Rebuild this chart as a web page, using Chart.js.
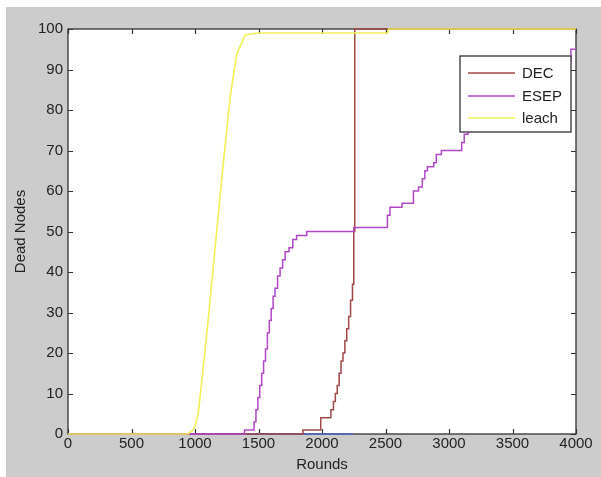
<!DOCTYPE html>
<html>
<head>
<meta charset="utf-8">
<script src="https://cdn.jsdelivr.net/npm/chart.js@4.4.0/dist/chart.umd.min.js"></script>
<style>
  html, body { margin: 0; padding: 0; background: #ffffff; }
  #wrap { width: 601px; height: 477px; position: relative; }
</style>
</head>
<body>
<div id="wrap"><canvas id="c" width="601" height="477"></canvas></div>
<script>
// ---- data ----
const xTicks = [0, 500, 1000, 1500, 2000, 2500, 3000, 3500, 4000];
const yTicks = [0, 10, 20, 30, 40, 50, 60, 70, 80, 90, 100];
const seriesNames = ["DEC", "ESEP", "leach"];

const decRounds = [0, 1850, 1990, 2070, 2090, 2105, 2120, 2135, 2150, 2165, 2180, 2195, 2210, 2225, 2240, 2250, 2258, 4000];
const decDead   = [0, 1,    4,    6,    8,    10,   12,   15,   18,   20,   23,   26,   29,   33,   37,   50,   100,  100];

const esepRounds = [0, 1390, 1465, 1480, 1495, 1510, 1525, 1540, 1555, 1570, 1585, 1600, 1615, 1630, 1650, 1670, 1690, 1710, 1740, 1770, 1800, 1880, 2250, 2515, 2535, 2630, 2720, 2760, 2790, 2810, 2830, 2880, 2900, 2940, 3100, 3120, 3150, 3250, 3400, 3550, 3700, 3850, 3960, 4000];
const esepDead   = [0, 1,    3,    6,    9,    12,   15,   18,   21,   25,   28,   31,   34,   36,   39,   41,   43,   45,   46,   48,   49,   50,   51,   54,   56,   57,   60,   61,   63,   65,   66,   67,   69,   70,   72,   74,   75,   78,   82,   86,   89,   92,   95,   95];

const leachRounds = [0, 944, 985, 1000, 1025, 1060, 1100, 1140, 1180, 1220, 1250, 1276, 1300, 1330, 1360, 1395, 1490, 2515, 2525, 4000];
const leachDead   = [0, 0,   1,   2,    5,    15,   27,   40,   53,   66,   75,   83,   88,   94,   96,   98.5, 99,  99,   100,  100];

// unlabeled series visible only along the x axis
const otherRounds = [0, 2250];
const otherDead   = [0, 0];

function pts(xs, ys) { return xs.map((x, i) => ({ x: x, y: ys[i] })); }

const colors = { DEC: "#a04848", ESEP: "#b048c8", leach: "#f2f055", other: "#5566c0" };

const bgPlugin = {
  id: "bg",
  beforeDraw(chart) {
    const ctx = chart.ctx;
    ctx.save();
    ctx.fillStyle = "#ffffff";
    ctx.fillRect(0, 0, chart.width, chart.height);
    ctx.fillStyle = "#cccccc";
    ctx.fillRect(6, 7, chart.width - 6, chart.height - 7);
    const a = chart.chartArea;
    ctx.fillStyle = "#ffffff";
    ctx.fillRect(a.left, a.top, a.right - a.left, a.bottom - a.top);
    ctx.restore();
  },
  beforeDatasetsDraw(chart) {
    const ctx = chart.ctx;
    const a = chart.chartArea;
    const xs = chart.scales.x, ys = chart.scales.y;
    ctx.save();
    ctx.strokeStyle = "#333333";
    ctx.lineWidth = 1.3;
    ctx.strokeRect(a.left, a.top, a.right - a.left, a.bottom - a.top);
    ctx.lineWidth = 1.2;
    ctx.beginPath();
    xTicks.forEach(v => {
      const px = Math.round(xs.getPixelForValue(v)) + 0.5;
      ctx.moveTo(px, a.bottom); ctx.lineTo(px, a.bottom - 5);
      ctx.moveTo(px, a.top); ctx.lineTo(px, a.top + 5);
    });
    yTicks.forEach(v => {
      const py = Math.round(ys.getPixelForValue(v)) + 0.5;
      ctx.moveTo(a.left, py); ctx.lineTo(a.left + 5, py);
      ctx.moveTo(a.right, py); ctx.lineTo(a.right - 5, py);
    });
    ctx.stroke();
    ctx.restore();
  },
  afterDraw(chart) {
    const ctx = chart.ctx;
    const bx = 460, by = 56, bw = 111, bh = 76;
    ctx.save();
    ctx.fillStyle = "#ffffff";
    ctx.fillRect(bx, by, bw, bh);
    ctx.strokeStyle = "#333333";
    ctx.lineWidth = 1.3;
    ctx.strokeRect(bx, by, bw, bh);
    ctx.font = "15px 'Liberation Sans', Arial, sans-serif";
    ctx.textBaseline = "middle";
    ctx.textAlign = "left";
    const rows = [73, 96, 118];
    seriesNames.forEach((name, i) => {
      const ds = chart.data.datasets.find(d => d.label === name);
      ctx.strokeStyle = ds.borderColor;
      ctx.lineWidth = 1.5;
      ctx.beginPath();
      ctx.moveTo(468, rows[i]); ctx.lineTo(515, rows[i]);
      ctx.stroke();
      ctx.fillStyle = "#222222";
      ctx.fillText(name, 522, rows[i] + 1);
    });
    ctx.restore();
  }
};

const font15 = { family: "'Liberation Sans', Arial, sans-serif", size: 15 };
const plain = v => String(v);

new Chart(document.getElementById("c"), {
  type: "line",
  data: {
    datasets: [
      { label: "leach", data: pts(leachRounds, leachDead), borderColor: colors.leach, borderWidth: 1.6, pointRadius: 0, order: 0, clip: 4 },
      { label: "ESEP", data: pts(esepRounds, esepDead), borderColor: colors.ESEP, borderWidth: 1.5, pointRadius: 0, stepped: "before", order: 1, clip: 4 },
      { label: "DEC", data: pts(decRounds, decDead), borderColor: colors.DEC, borderWidth: 1.5, pointRadius: 0, stepped: "before", order: 2, clip: 4 },
      { label: "", data: pts(otherRounds, otherDead), borderColor: colors.other, borderWidth: 1.5, pointRadius: 0, order: 3, clip: 4 }
    ]
  },
  options: {
    responsive: false,
    animation: false,
    layout: { padding: { left: 0, top: 29, right: 25, bottom: 0 } },
    plugins: { legend: { display: false }, tooltip: { enabled: false } },
    scales: {
      x: {
        type: "linear", min: 0, max: 4000,
        afterBuildTicks(scale) { scale.ticks = xTicks.map(v => ({ value: v })); },
        afterFit(scale) { scale.height = 43; },
        grid: { display: false, drawTicks: false },
        border: { display: false },
        ticks: { font: font15, color: "#222222", padding: 1, maxRotation: 0, autoSkip: false, callback: plain },
        title: { display: true, text: "Rounds", font: font15, color: "#222222", padding: { top: 0, bottom: 3 } }
      },
      y: {
        type: "linear", min: 0, max: 100,
        afterBuildTicks(scale) { scale.ticks = yTicks.map(v => ({ value: v })); },
        afterFit(scale) { scale.width = 68; },
        grid: { display: false, drawTicks: false },
        border: { display: false },
        ticks: { font: font15, color: "#222222", padding: 5, autoSkip: false, callback: plain },
        title: { display: true, text: "Dead Nodes", font: font15, color: "#222222", padding: { top: 12, bottom: 0 } }
      }
    }
  },
  plugins: [bgPlugin]
});
</script>
</body>
</html>
